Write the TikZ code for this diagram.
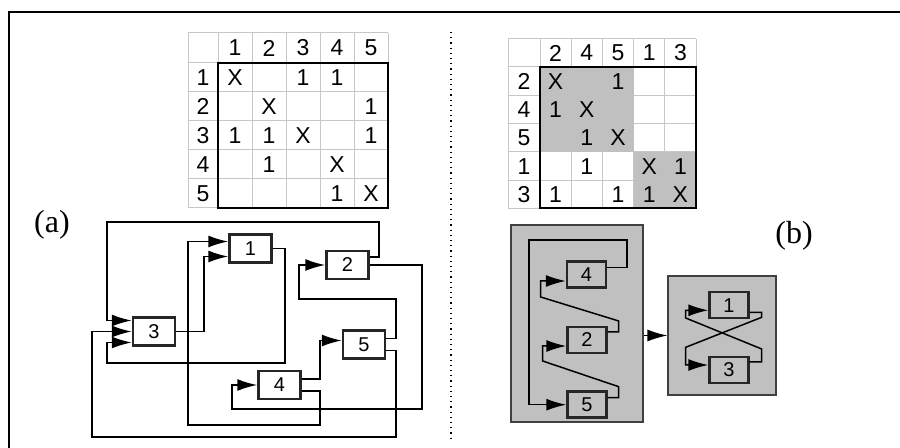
\documentclass[tikz,border=0pt]{standalone}
\usepackage{fontspec}
\setmainfont{Liberation Serif}
\setsansfont{Liberation Sans}
\usetikzlibrary{arrows.meta}
\definecolor{cellgray}{RGB}{192,192,192}

\begin{document}
\begin{tikzpicture}[x=0.5pt,y=-0.5pt,>={Latex[length=10pt,width=6pt]},
    cell/.style={font=\sffamily\fontsize{11.5}{12}\selectfont,inner sep=0pt},
    gridline/.style={draw=black!22,line width=0.5pt},
    border/.style={draw=black,line width=1pt},
    block/.style={draw=black!85,fill=white,line width=1.2pt,minimum width=21pt,minimum height=14pt,
                  inner sep=0pt,font=\sffamily\fontsize{10}{10}\selectfont},
    subblock/.style={block,fill=cellgray,minimum width=19.5pt,minimum height=13pt},
    group/.style={draw=black!75,fill=cellgray,line width=0.6pt,inner sep=0pt},
    wire/.style={->,line width=0.9pt},
    subwire/.style={->,line width=0.75pt}]

   \useasboundingbox (0,0) rectangle (900,448);

   % Frame
      \draw[line width=1pt] (9,448) -- (9,12) -- (900,12);
      \draw[dotted,line width=0.6pt] (451,32) -- (451,440);

   % Matrix (a)
      \foreach \x in {188,218,252,286,320,354,388} \draw[gridline] (\x,33) -- (\x,208);
      \foreach \y in {33,63,92,121,150,179,208}    \draw[gridline] (188,\y) -- (388,\y);
      \draw[border] (218,63) rectangle (388,208);
      \foreach \i in {1,...,5} {
         \node[cell] (colA\i) at ({201+34*\i},48)   {\i};
         \node[cell] (rowA\i) at (203,{48.5+29*\i}) {\i};
      }
      \foreach \r/\c/\t in {1/1/X, 1/3/1, 1/4/1, 2/2/X, 2/5/1, 3/1/1, 3/2/1, 3/3/X, 3/5/1,
                            4/2/1, 4/4/X, 5/4/1, 5/5/X}
         \node[cell] (mA\r\c) at ({201+34*\c},{48.5+29*\r}) {\t};

   % Matrix (b)
      \foreach \x in {508,540,571.2,602.4,633.6,664.8,696} \draw[gridline] (\x,39) -- (\x,208.5);
      \foreach \y in {39,67,95.3,123.6,151.9,180.2,208.5} \draw[gridline] (508,\y) -- (696,\y);
      \fill[cellgray] (540,67) rectangle (633.6,151.9);
      \fill[cellgray] (633.6,151.9) rectangle (696,208.5);
      \draw[border] (540,67) rectangle (696,208.5);
      \foreach \l [count=\i] in {2,4,5,1,3} {
         \node[cell] (colB\i) at ({524.4+31.2*\i},53)  {\l};
         \node[cell] (rowB\i) at (524,{52.9+28.3*\i}) {\l};
      }
      \foreach \r/\c/\t in {1/1/X, 1/3/1, 2/1/1, 2/2/X, 3/2/1, 3/3/X, 4/2/1, 4/4/X, 4/5/1,
                            5/1/1, 5/3/1, 5/4/1, 5/5/X}
         \node[cell] (mB\r\c) at ({524.4+31.2*\c},{52.9+28.3*\r}) {\t};

   % Labels
      \node[font=\fontsize{16}{18}\selectfont] (labA) at (52,225) {(a)};
      \node[font=\fontsize{16}{18}\selectfont] (labB) at (794,236) {(b)};

   % Nodes (a)
      \node[block] (a1) at (250.5,248.5) {1};
      \node[block] (a2) at (347.5,265)   {2};
      \node[block] (a3) at (154,331.5)   {3};
      \node[block] (a4) at (279.5,385)   {4};
      \node[block] (a5) at (364,344.5)   {5};

   % Paths (a)
      \draw[wire] ([yshift=4pt]a2.east) -| (379,222) -- (107,222) |- ([yshift=5.5pt]a3.west);
      \draw[wire] (a3.east) -- ++(28,0) |- ([yshift=-4pt]a1.west);
      \draw[wire] ([yshift=-3pt]a4.east) -- ++(18,0) |- (188,425) |- ([yshift=3.5pt]a1.west);
      \draw[wire] (a1.east) -- ++(12,0) |- (107,363) |- ([yshift=-5.5pt]a3.west);
      \draw[wire] ([yshift=3pt]a5.east) -- ++(10,0) |- (299,299) |- (a2.west);
      \draw[wire] ([yshift=3pt]a4.east) -- ++(18,0) |- ([yshift=2pt]a5.west);
      \draw[wire] (a2.east) -- ++(52,0) |- (232,409) |- (a4.west);
      \draw[wire] ([yshift=-3pt]a5.east) -- ++(10,0) |- (92,437) |- (a3.west);

   % Groups (b)
      \node[group,minimum width=66pt,minimum height=98.5pt] (gl) at (577,323.5) {};
      \node[group,minimum width=54pt,minimum height=59.5pt] (gr) at (722,335.5) {};
      \draw[subwire] (gl.east |- gr.west) -- (gr.west);

   % Nodes (b)
      \node[subblock] (b4) at (586.5,274.5) {4};
      \node[subblock] (b2) at (587,340)     {2};
      \node[subblock] (b5) at (587,404.7)   {5};
      \node[subblock] (b1) at (729,305.3)   {1};
      \node[subblock] (b3) at (729,370)     {3};

   % Paths (b)
      \draw[subwire] ([yshift=3.5pt]b4.east) -- ++(20,0) |- (529,240) |- (b5.west);
      \draw[subwire] ([yshift=4pt]b2.east) -- ++(11,0) -- ++(0,-11) -- ++(-78,-24) |- ([yshift=-3.25pt]b4.west);
      \draw[subwire] ([yshift=3.5pt]b5.east) -- ++(11,0) -- ++(0,-11) -- ++(-76,-25.7) |- ([yshift=-3pt]b2.west);
      \draw[subwire] ([yshift=-3.5pt]b1.east) -- ++(12,0) -- ++(0,5) -- ++(-76,30) |- ([yshift=2.5pt]b3.west);
      \draw[subwire] ([yshift=4pt]b3.east) -- ++(12,0) -- ++(0,-13) -- ++(-76,-31) |- ([yshift=-2.5pt]b1.west);
\end{tikzpicture}
\end{document}
